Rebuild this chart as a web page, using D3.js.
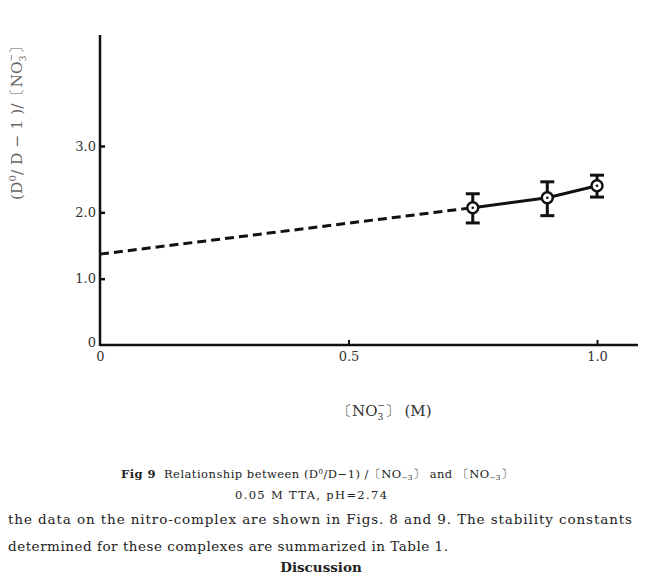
<!DOCTYPE html>
<html>
<head>
<meta charset="utf-8">
<script src="https://cdn.jsdelivr.net/npm/d3@7"></script>
<style>
  body { margin: 0; background: #fff; }
  svg { display: block; }
  .axis text { font-family: "DejaVu Serif", serif; font-size: 13px; fill: #333; }
</style>
</head>
<body>
<div id="app"></div>
<script>
// values
const xTicks = [0, 0.5, 1.0];
const xTickLabels = ['0', '0.5', '1.0'];
const yTicks = [0, 1.0, 2.0, 3.0];
const yTickLabels = ['0', '1.0', '2.0', '3.0'];

const nitrate = [0.75, 0.9, 1.0];
const ratio = [2.07, 2.22, 2.40];
const ratioLow = [1.84, 1.95, 2.23];
const ratioHigh = [2.28, 2.46, 2.56];

// dashed extrapolation to zero
const extX = [0, 0.75];
const extY = [1.37, 2.07];

const svgConf = { width: 646, height: 578 };
const serif = '"DejaVu Serif", serif';

const svg = d3.select('#app').append('svg')
  .attr('width', svgConf.width)
  .attr('height', svgConf.height);

const x = d3.scaleLinear().domain([0, 1.0]).range([100, 597]);
const y = d3.scaleLinear().domain([0, 3.0]).range([345, 146]);

// axes
const xAxis = svg.append('g')
  .attr('class', 'axis')
  .attr('transform', 'translate(0,345)')
  .call(d3.axisBottom(x).tickValues(xTicks).tickFormat((d, i) => xTickLabels[i])
    .tickSizeInner(-5).tickSizeOuter(0).tickPadding(4));
xAxis.select('.domain').remove();
xAxis.selectAll('.tick line').attr('stroke', '#111').attr('stroke-width', 2)
  .filter(d => d === 0).remove();
xAxis.selectAll('.tick text').attr('dy', '0.9em');

const yAxis = svg.append('g')
  .attr('class', 'axis')
  .attr('transform', 'translate(100,0)')
  .call(d3.axisLeft(y).tickValues(yTicks).tickFormat((d, i) => yTickLabels[i])
    .tickSizeInner(-5).tickSizeOuter(0).tickPadding(4));
yAxis.select('.domain').remove();
yAxis.selectAll('.tick line').attr('stroke', '#111').attr('stroke-width', 2.5)
  .filter(d => d === 0).remove();
yAxis.selectAll('.tick text').attr('x', -4).filter(d => d === 0).attr('dy', '0.1em');

svg.append('line')
  .attr('x1', x(0)).attr('x2', 638)
  .attr('y1', y(0)).attr('y2', y(0))
  .attr('stroke', '#111').attr('stroke-width', 2.5);
svg.append('line')
  .attr('x1', x(0)).attr('x2', x(0))
  .attr('y1', y(0) + 1).attr('y2', 35)
  .attr('stroke', '#111').attr('stroke-width', 2.5);

// lines
const line = d3.line().x(d => x(d[0])).y(d => y(d[1]));

svg.append('path')
  .datum(d3.zip(extX, extY))
  .attr('d', line)
  .attr('fill', 'none')
  .attr('stroke', '#111')
  .attr('stroke-width', 3)
  .attr('stroke-dasharray', '9,5');

svg.append('path')
  .datum(d3.zip(nitrate, ratio))
  .attr('d', line)
  .attr('fill', 'none')
  .attr('stroke', '#111')
  .attr('stroke-width', 3);

// error bars
const pts = nitrate.map((n, i) => ({ n, v: ratio[i], lo: ratioLow[i], hi: ratioHigh[i] }));

svg.append('g').selectAll('g')
  .data(pts)
  .enter()
  .append('g')
  .call(g => {
    g.append('line')
      .attr('x1', d => x(d.n)).attr('x2', d => x(d.n))
      .attr('y1', d => y(d.lo)).attr('y2', d => y(d.hi))
      .attr('stroke', '#111').attr('stroke-width', 3);
    g.append('line')
      .attr('x1', d => x(d.n) - 7).attr('x2', d => x(d.n) + 7)
      .attr('y1', d => y(d.lo)).attr('y2', d => y(d.lo))
      .attr('stroke', '#111').attr('stroke-width', 3);
    g.append('line')
      .attr('x1', d => x(d.n) - 7).attr('x2', d => x(d.n) + 7)
      .attr('y1', d => y(d.hi)).attr('y2', d => y(d.hi))
      .attr('stroke', '#111').attr('stroke-width', 3);
    g.append('circle')
      .attr('cx', d => x(d.n)).attr('cy', d => y(d.v))
      .attr('r', 5.5)
      .attr('fill', '#fff').attr('stroke', '#111').attr('stroke-width', 2.5);
    g.append('circle')
      .attr('cx', d => x(d.n)).attr('cy', d => y(d.v))
      .attr('r', 1.3).attr('fill', '#111');
  });

// y title
const yTitle = svg.append('text')
  .attr('transform', 'translate(22,119) rotate(-90)')
  .attr('text-anchor', 'middle')
  .attr('font-family', serif)
  .attr('font-size', 15.5)
  .attr('fill', '#666');
yTitle.append('tspan').text('(D');
yTitle.append('tspan').attr('dy', -6).attr('font-size', 10).text('0');
yTitle.append('tspan').attr('dy', 6).text('/ D − 1 )/〔NO');
yTitle.append('tspan').attr('dy', 4).attr('font-size', 9).text('3');
yTitle.append('tspan').attr('dy', -12).attr('dx', -6).attr('font-size', 9).text('−');
yTitle.append('tspan').attr('dy', 8).text('〕');

// x title
const xTitle = svg.append('text')
  .attr('x', 337).attr('y', 416)
  .attr('font-family', serif)
  .attr('font-size', 15)
  .attr('fill', '#333');
xTitle.append('tspan').text('〔NO');
xTitle.append('tspan').attr('dy', 4).attr('font-size', 9).text('3');
xTitle.append('tspan').attr('dy', -12).attr('dx', -6).attr('font-size', 9).text('−');
xTitle.append('tspan').attr('dy', 8).text('〕 (M)');

// caption
const cap = svg.append('text')
  .attr('x', 121).attr('y', 478)
  .attr('textLength', 392).attr('lengthAdjust', 'spacing')
  .attr('font-family', serif)
  .attr('font-size', 11.5)
  .attr('fill', '#222');
cap.append('tspan').attr('font-weight', 'bold').text('Fig 9');
cap.append('tspan').attr('dx', 8).text('Relationship between (D');
cap.append('tspan').attr('dy', -4).attr('font-size', 7).text('0');
cap.append('tspan').attr('dy', 4).text('/D−1) /〔NO');
cap.append('tspan').attr('dy', 2).attr('font-size', 7).text('−3');
cap.append('tspan').attr('dy', -2).text('〕 and 〔NO');
cap.append('tspan').attr('dy', 2).attr('font-size', 7).text('−3');
cap.append('tspan').attr('dy', -2).text('〕');

svg.append('text')
  .attr('x', 235).attr('y', 499)
  .attr('textLength', 152).attr('lengthAdjust', 'spacing')
  .attr('font-family', serif)
  .attr('font-size', 11.5)
  .attr('fill', '#222')
  .text('0.05 M TTA, pH=2.74');

// body text
svg.append('text')
  .attr('x', 8).attr('y', 524)
  .attr('textLength', 624).attr('lengthAdjust', 'spacing')
  .attr('font-family', serif)
  .attr('font-size', 13.5)
  .attr('fill', '#222')
  .text('the data on the nitro-complex are shown in Figs.  8 and 9.  The stability  constants');

svg.append('text')
  .attr('x', 8).attr('y', 551)
  .attr('textLength', 440).attr('lengthAdjust', 'spacing')
  .attr('font-family', serif)
  .attr('font-size', 13.5)
  .attr('fill', '#222')
  .text('determined for these complexes are summarized in Table 1.');

svg.append('text')
  .attr('x', 321).attr('y', 572)
  .attr('text-anchor', 'middle')
  .attr('font-family', serif)
  .attr('font-size', 13.5)
  .attr('font-weight', 'bold')
  .attr('fill', '#222')
  .text('Discussion');
</script>
</body>
</html>
